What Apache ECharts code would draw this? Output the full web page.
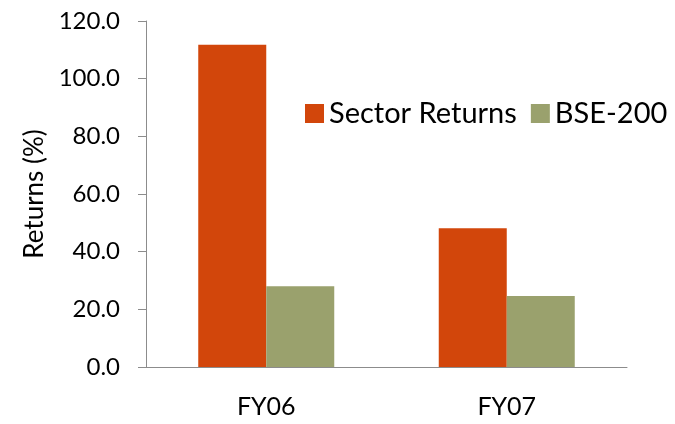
<!DOCTYPE html>
<html>
<head>
<meta charset="utf-8">
<script src="https://cdn.jsdelivr.net/npm/echarts@6/dist/echarts.min.js"></script>
<style>
html, body { margin: 0; padding: 0; background: #fff; }
#main { width: 675px; height: 424px; }
</style>
</head>
<body>
<div id="main"></div>
<script>
var categories = ['FY06', 'FY07'];
var sectorReturns = [111.8, 48.1];
var bse200 = [28.0, 24.6];
var yTicks = [0, 20, 40, 60, 80, 100, 120];

var font = 'Lato, "Open Sans", sans-serif';

var option = {
    animation: false,
    backgroundColor: '#fff',
    legend: {
        data: ['Sector Returns', 'BSE-200'],
        left: 300,
        top: 94,
        itemWidth: 19,
        itemHeight: 19,
        itemGap: 14,
        icon: 'rect',
        textStyle: {
            fontFamily: font,
            fontSize: 29,
            color: '#000'
        }
    },
    grid: {
        left: 146,
        right: 48,
        top: 21,
        bottom: 57
    },
    xAxis: {
        type: 'category',
        data: categories,
        axisLine: { lineStyle: { color: '#8c8c8c' } },
        axisTick: { length: 10, lineStyle: { color: '#8c8c8c' } },
        axisLabel: {
            margin: 27,
            color: '#000',
            fontFamily: font,
            fontSize: 25
        }
    },
    yAxis: {
        type: 'value',
        min: yTicks[0],
        max: yTicks[yTicks.length - 1],
        interval: 20,
        name: 'Returns (%)',
        nameLocation: 'middle',
        nameGap: 96,
        nameTextStyle: {
            fontFamily: font,
            fontSize: 26,
            color: '#000'
        },
        axisLine: { show: true, lineStyle: { color: '#8c8c8c' } },
        axisTick: { show: true, length: 8, lineStyle: { color: '#8c8c8c' } },
        splitLine: { show: false },
        axisLabel: {
            margin: 26,
            color: '#000',
            fontFamily: font,
            fontSize: 24,
            formatter: function (v) { return v.toFixed(1); }
        }
    },
    series: [
        {
            name: 'Sector Returns',
            type: 'bar',
            data: sectorReturns,
            barWidth: 68,
            barGap: '0%',
            itemStyle: { color: '#d2460b' }
        },
        {
            name: 'BSE-200',
            type: 'bar',
            data: bse200,
            barWidth: 68,
            barGap: '0%',
            itemStyle: { color: '#9aa16d' }
        }
    ]
};

var myChart = echarts.init(document.getElementById('main'));
myChart.setOption(option);
</script>
</body>
</html>
